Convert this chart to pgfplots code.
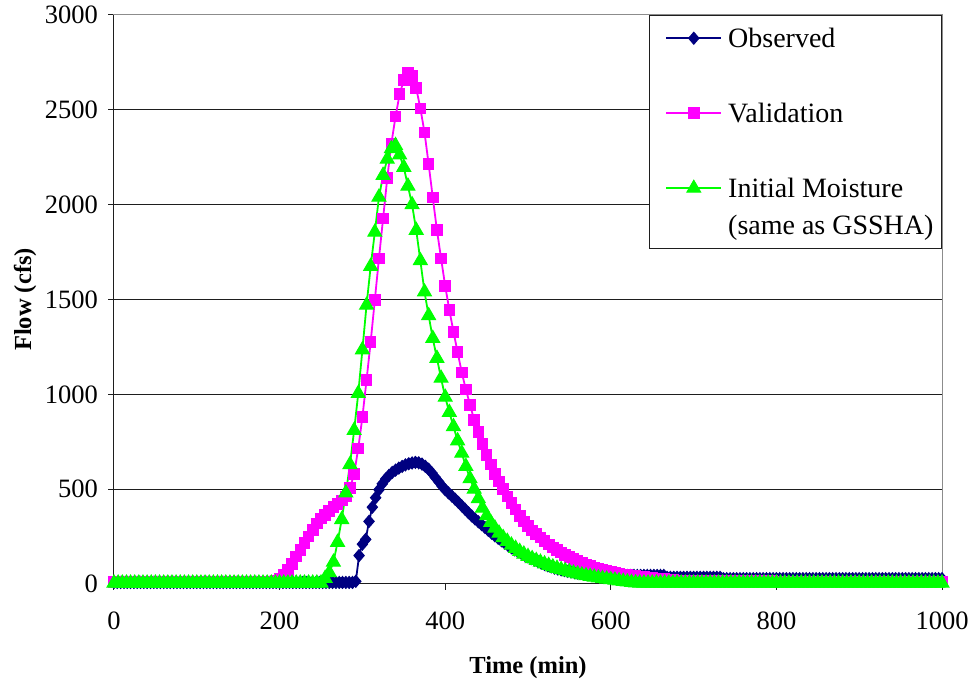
\documentclass[border=0pt]{standalone}
\usepackage{pgfplots}
\pgfplotsset{compat=1.18}
\usepackage{fontspec}
\setmainfont{Liberation Serif}

\definecolor{obsblue}{RGB}{0,0,128}
\definecolor{valpink}{RGB}{255,0,255}
\definecolor{inigreen}{RGB}{0,255,0}
\definecolor{gridgray}{RGB}{30,30,30}

\begin{document}
\begin{tikzpicture}
\begin{axis}[
  name=ax, at={(0,0)}, anchor=south west,
  scale only axis, width=828pt, height=569pt,
  xmin=0, xmax=1000, ymin=0, ymax=3000,
  xtick={0,200,...,1000}, ytick={0,500,...,3000},
  tick align=outside, xtick pos=bottom, ytick pos=left,
  major tick length=6pt,
  tick style={gridgray, line width=1pt},
  axis line style={black!45, line width=1pt},
  ymajorgrids, grid style={gridgray, line width=1pt},
  /pgf/number format/assume math mode=true,
  /pgf/number format/1000 sep={},
  ticklabel style={font=\fontsize{26.5}{30}\selectfont},
  yticklabel style={anchor=east, inner sep=0pt, xshift=-10pt},
  xticklabel style={anchor=north, inner sep=0pt, yshift=-22pt},
  xlabel={\textbf{Time (min)}}, ylabel={\textbf{Flow (cfs)}},
  label style={font=\fontsize{24.5}{28}\selectfont},
  xlabel style={at={(axis description cs:0.5,-0.1476)}, anchor=center},
  ylabel style={at={(axis description cs:-0.1075,0.5)}, anchor=center},
  clip=false,
  legend cell align=left,
  legend style={at={(rel axis cs:1,1)}, anchor=north east,
    draw=gridgray, line width=1pt, fill=white,
    font=\fontsize{28}{31}\selectfont,
    inner xsep=8pt, inner ysep=4pt, row sep=0pt, column sep=6pt,
    nodes={inner sep=0pt, minimum height=37.5pt}},
  legend image code/.code={\path (0pt,0pt);
    \draw[line width=1.8pt, mark repeat=2, mark phase=2]
      plot coordinates {(8pt,0pt) (35.5pt,0pt) (63pt,0pt)};},
]
% left and bottom axis lines
\draw[gridgray, line width=1pt] (rel axis cs:0,1) -- (rel axis cs:0,0) -- (rel axis cs:1,0);

% Observed hydrograph
\addplot[color=obsblue, line width=1.8pt, mark=diamond*, mark size=6pt,
  mark options={solid, fill=obsblue, line width=1pt, xscale=1.15}] coordinates {
(0,8) (4,8) (8,8) (12,8) (16,8) (20,8) (24,8) (28,8) (32,8) (36,8) (40,8) (44,8)
(48,8) (52,8) (56,8) (60,8) (64,8) (68,8) (72,8) (76,8) (80,8) (84,8) (88,8) (92,8)
(96,8) (100,8) (104,8) (108,8) (112,8) (116,8) (120,8) (124,8) (128,8) (132,8) (136,8) (140,8)
(144,8) (148,8) (152,8) (156,8) (160,8) (164,8) (168,8) (172,8) (176,8) (180,8) (184,8) (188,8)
(192,8) (196,8) (200,8) (204,8) (208,8) (212,8) (216,8) (220,8) (224,8) (228,8) (232,8) (236,8)
(240,8) (244,8) (248,8) (252,8) (256,8) (260,8) (264,8) (268,8) (272,8) (276,8) (280,8) (284,8)
(288,8) (292,14) (296,150) (300,210) (304,235) (308,330) (312,405) (316,455) (320,497) (324,528)
(328,553) (332,572) (336,588) (340,600) (344,611) (348,620) (352,628) (356,634) (360,638) (364,641)
(368,639) (372,632) (376,620) (380,605) (384,585) (388,562) (392,540) (396,517) (400,497) (404,480)
(408,464) (412,447) (416,430) (420,412) (424,394) (428,376) (432,359) (436,343) (440,328) (444,313)
(448,298) (452,283) (456,268) (460,254) (464,241) (468,228) (472,215) (476,203) (480,191) (484,180)
(488,170) (492,161) (496,152) (500,143) (504,134) (508,126) (512,118) (516,110) (520,103) (524,96)
(528,90) (532,84) (536,79) (540,75) (544,71) (548,67) (552,64) (556,61) (560,58) (564,56)
(568,54) (572,52) (576,50) (580,49) (584,48) (588,47) (592,46) (596,45) (600,45) (604,45)
(608,45) (612,45) (616,45) (620,45) (624,45) (628,45) (632,45) (636,45) (640,45) (644,45)
(648,45) (652,45) (656,45) (660,45) (664,45) (668,35) (672,35) (676,35) (680,35) (684,35)
(688,35) (692,35) (696,35) (700,35) (704,35) (708,35) (712,35) (716,35) (720,35) (724,35)
(728,35) (732,35) (736,28) (740,28) (744,28) (748,28) (752,28) (756,28) (760,28) (764,28)
(768,28) (772,28) (776,28) (780,28) (784,28) (788,28) (792,28) (796,28) (800,28) (804,28)
(808,28) (812,28) (816,28) (820,28) (824,28) (828,28) (832,28) (836,28) (840,28) (844,28)
(848,28) (852,28) (856,28) (860,28) (864,28) (868,28) (872,28) (876,28) (880,28) (884,28)
(888,28) (892,28) (896,28) (900,28) (904,28) (908,28) (912,28) (916,28) (920,28) (924,28)
(928,28) (932,28) (936,28) (940,28) (944,28) (948,28) (952,28) (956,28) (960,28) (964,28)
(968,28) (972,28) (976,28) (980,28) (984,28) (988,28) (992,28) (996,28) (1000,28)
};
\addlegendentry{Observed}
\addlegendimage{empty legend}\addlegendentry{}

% Validation run
\addplot[color=valpink, line width=1.8pt, mark=square*, mark size=5.3pt,
  mark options={solid, fill=valpink, line width=1pt}] coordinates {
(0,12) (5,12) (10,12) (15,12) (20,12) (25,12) (30,12) (35,12) (40,12) (45,12)
(50,12) (55,12) (60,12) (65,12) (70,12) (75,12) (80,12) (85,12) (90,12) (95,12)
(100,12) (105,12) (110,12) (115,12) (120,12) (125,12) (130,12) (135,12) (140,12) (145,12)
(150,12) (155,12) (160,12) (165,12) (170,12) (175,12) (180,12) (185,12) (190,12) (195,15)
(200,30) (205,50) (210,75) (215,105) (220,145) (225,180) (230,215) (235,250) (240,285) (245,318)
(250,345) (255,365) (260,385) (265,405) (270,422) (275,440) (280,462) (285,505) (290,580) (295,715)
(300,880) (305,1075) (310,1277) (315,1497) (320,1717) (325,1928) (330,2139) (335,2323) (340,2464) (345,2583)
(350,2657) (355,2693) (360,2678) (365,2614) (370,2508) (375,2381) (380,2214) (385,2037) (390,1866) (395,1717)
(400,1571) (405,1445) (410,1330) (415,1222) (420,1115) (425,1025) (430,945) (435,865) (440,800) (445,738)
(450,680) (455,630) (460,580) (465,540) (470,500) (475,462) (480,428) (485,392) (490,358) (495,330)
(500,305) (505,282) (510,262) (515,245) (520,226) (525,208) (530,192) (535,178) (540,165) (545,153)
(550,142) (555,132) (560,122) (565,112) (570,103) (575,95) (580,88) (585,81) (590,75) (595,69)
(600,64) (605,59) (610,55) (615,51) (620,48) (625,45) (630,42) (635,40) (640,37) (645,34)
(650,31) (655,29) (660,27) (665,25) (670,23) (675,21) (680,19) (685,18) (690,17) (695,16)
(700,15) (705,15) (710,15) (715,15) (720,15) (725,15) (730,15) (735,15) (740,15) (745,15)
(750,15) (755,15) (760,15) (765,15) (770,15) (775,15) (780,15) (785,15) (790,15) (795,15)
(800,14) (805,14) (810,14) (815,14) (820,14) (825,14) (830,14) (835,14) (840,14) (845,14)
(850,14) (855,14) (860,14) (865,14) (870,14) (875,14) (880,14) (885,14) (890,14) (895,14)
(900,13) (905,13) (910,13) (915,13) (920,13) (925,13) (930,13) (935,13) (940,13) (945,13)
(950,13) (955,13) (960,13) (965,13) (970,13) (975,13) (980,13) (985,13) (990,13) (995,13) (1000,13)
};
\addlegendentry{Validation}
\addlegendimage{empty legend}\addlegendentry{}

% Initial moisture run (same as GSSHA)
\addplot[color=inigreen, line width=1.8pt, mark=triangle*, mark size=8pt,
  mark options={solid, fill=inigreen, line width=1pt}] coordinates {
(0,5) (5,5) (10,5) (15,5) (20,5) (25,5) (30,5) (35,5) (40,5) (45,5)
(50,5) (55,5) (60,5) (65,5) (70,5) (75,5) (80,5) (85,5) (90,5) (95,5)
(100,5) (105,5) (110,5) (115,5) (120,5) (125,5) (130,5) (135,5) (140,5) (145,5)
(150,5) (155,5) (160,5) (165,5) (170,5) (175,5) (180,5) (185,5) (190,5) (195,5)
(200,5) (205,5) (210,5) (215,5) (220,5) (225,5) (230,5) (235,5) (240,5) (245,5)
(250,5) (255,30) (260,60) (265,115) (270,220) (275,340) (280,480) (285,630) (290,810) (295,1005)
(300,1235) (305,1470) (310,1675) (315,1855) (320,2040) (325,2155) (330,2240) (335,2295) (340,2312) (345,2262)
(350,2197) (355,2098) (360,2000) (365,1865) (370,1705) (375,1540) (380,1415) (385,1295) (390,1190) (395,1085)
(400,985) (405,905) (410,830) (415,755) (420,690) (425,620) (430,555) (435,500) (440,450) (445,400)
(450,360) (455,325) (460,295) (465,268) (470,245) (475,225) (480,205) (485,188) (490,172) (495,158)
(500,145) (505,134) (510,124) (515,115) (520,106) (525,98) (530,90) (535,83) (540,76) (545,70)
(550,64) (555,58) (560,53) (565,48) (570,44) (575,40) (580,36) (585,32) (590,29) (595,26)
(600,23) (605,20) (610,17) (615,14) (620,11) (625,8) (630,6) (635,5) (640,5) (645,5)
(650,5) (655,5) (660,5) (665,5) (670,5) (675,5) (680,5) (685,5) (690,5) (695,5)
(700,5) (705,5) (710,5) (715,5) (720,5) (725,5) (730,5) (735,5) (740,5) (745,5)
(750,5) (755,5) (760,5) (765,5) (770,5) (775,5) (780,5) (785,5) (790,5) (795,5)
(800,5) (805,5) (810,5) (815,5) (820,5) (825,5) (830,5) (835,5) (840,5) (845,5)
(850,5) (855,5) (860,5) (865,5) (870,5) (875,5) (880,5) (885,5) (890,5) (895,5)
(900,5) (905,5) (910,5) (915,5) (920,5) (925,5) (930,5) (935,5) (940,5) (945,5)
(950,5) (955,5) (960,5) (965,5) (970,5) (975,5) (980,5) (985,5) (990,5) (995,5) (1000,5)
};
\addlegendentry{Initial Moisture}
\addlegendimage{empty legend}\addlegendentry{(same as GSSHA)}
\end{axis}
\pgfresetboundingbox
\useasboundingbox ([xshift=-114pt,yshift=-99pt]ax.south west) rectangle ([xshift=27pt,yshift=15pt]ax.north east);
\end{tikzpicture}
\end{document}
